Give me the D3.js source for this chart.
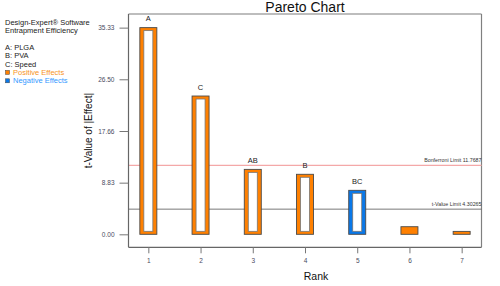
<!DOCTYPE html>
<html lang="en">
<head>
<meta charset="UTF-8"/>
<title>Pareto Chart</title>
<script src="https://d3js.org/d3.v7.min.js"></script>
<style>
    body { margin: 0; background: #fff; }
    text { font-family: "Liberation Sans", Arial, sans-serif; }
</style>
</head>
<body>
<div id="chart"></div>
<script>
    // data
    var ranks = [1, 2, 3, 4, 5, 6, 7];
    var terms = ["A", "C", "AB", "B", "BC", "", ""];
    var tValues = [35.33, 23.64, 11.1, 10.26, 7.52, 1.3, 0.5];
    var signs = ["+", "+", "+", "+", "-", "+", "+"];
    var yTicks = [0, 8.83, 17.66, 26.50, 35.33];
    var bonferroni = 11.7687;
    var tLimit = 4.30265;
    var legendLines = [
        ["Design-Expert\u00ae Software", "#222"],
        ["Entrapment Efficiency", "#222"],
        ["", ""],
        ["A: PLGA", "#222"],
        ["B: PVA", "#222"],
        ["C: Speed", "#222"]
    ];

    var w = 500, h = 286;
    var plotL = 128.5, plotR = 481.5, plotT = 14, plotB = 247.3;
    var orange = "#ff8000", blue = "#0a78e8";

    var xScale = d3.scaleLinear()
                    .domain([0.62, 7.38])
                    .range([plotL, plotR]);

    var yScale = d3.scaleLinear()
                    .domain([-2.22, 37.66])
                    .range([plotB, plotT]);

    var svg = d3.select("#chart")
                .append("svg")
                .attr("width", w)
                .attr("height", h);

    // frame
    svg.append("line").attr("x1", plotL).attr("x2", plotR).attr("y1", plotT).attr("y2", plotT)
       .attr("stroke", "#bdbdbd").attr("stroke-width", 2);
    svg.append("line").attr("x1", plotR).attr("x2", plotR).attr("y1", plotT).attr("y2", plotB)
       .attr("stroke", "#808080").attr("stroke-width", 1.2);

    // limit lines (behind bars)
    svg.append("line")
       .attr("x1", plotL).attr("x2", plotR)
       .attr("y1", yScale(bonferroni)).attr("y2", yScale(bonferroni))
       .attr("stroke", "#f4a8a8").attr("stroke-width", 1.3);
    svg.append("line")
       .attr("x1", plotL).attr("x2", plotR)
       .attr("y1", yScale(tLimit)).attr("y2", yScale(tLimit))
       .attr("stroke", "#555").attr("stroke-width", 0.8);

    svg.append("text")
       .attr("x", plotR).attr("y", yScale(bonferroni) - 3)
       .attr("text-anchor", "end")
       .attr("font-size", "5.3px").attr("fill", "#333")
       .text("Bonferroni Limit " + bonferroni);
    svg.append("text")
       .attr("x", plotR).attr("y", yScale(tLimit) - 3)
       .attr("text-anchor", "end")
       .attr("font-size", "5.3px").attr("fill", "#333")
       .text("t-Value Limit " + tLimit);

    // bars
    var barW = 17;
    var bars = svg.selectAll("g.bar")
        .data(ranks)
        .enter()
        .append("g")
        .attr("class", "bar");

    bars.append("rect")
        .attr("x", function(d) { return xScale(d) - barW / 2; })
        .attr("y", function(d, i) { return yScale(tValues[i]); })
        .attr("width", barW)
        .attr("height", function(d, i) { return yScale(0) - yScale(tValues[i]); })
        .attr("fill", function(d, i) { return signs[i] === "+" ? orange : blue; })
        .attr("stroke", "#4a4a4a")
        .attr("stroke-width", 0.9);

    bars.filter(function(d, i) { return yScale(0) - yScale(tValues[i]) > 12; })
        .append("rect")
        .attr("x", function(d) { return xScale(d) - barW / 2 + 4; })
        .attr("y", function(d, i) { return yScale(tValues[i]) + 3; })
        .attr("width", barW - 8)
        .attr("height", function(d, i) { return yScale(0) - yScale(tValues[i]) - 6; })
        .attr("fill", "#fff")
        .attr("stroke", "#777")
        .attr("stroke-width", 0.8);

    bars.append("text")
        .attr("x", function(d) { return xScale(d); })
        .attr("y", function(d, i) { return yScale(tValues[i]) - 6.5; })
        .attr("text-anchor", "middle")
        .attr("font-size", "7.5px")
        .attr("fill", "#222")
        .text(function(d, i) { return terms[i]; });

    // axes
    var yAxis = d3.axisLeft(yScale)
                  .tickValues(yTicks)
                  .tickFormat(d3.format(".2f"))
                  .tickSize(9)
                  .tickPadding(5);
    var gy = svg.append("g")
       .attr("transform", "translate(" + plotL + ",0)")
       .call(yAxis);

    var xAxis = d3.axisBottom(xScale)
                  .tickValues(ranks)
                  .tickFormat(d3.format("d"))
                  .tickSize(6)
                  .tickPadding(5);
    var gx = svg.append("g")
       .attr("transform", "translate(0," + plotB + ")")
       .call(xAxis);

    [gx, gy].forEach(function(g) {
        g.select(".domain").attr("stroke", "#666").attr("stroke-width", 1.2);
        g.selectAll(".tick line").attr("stroke", "#777").attr("stroke-width", 1);
        g.selectAll(".tick text").attr("fill", "#4a4a60").attr("font-size", "6.5px")
         .attr("font-family", "Liberation Sans, Arial, sans-serif");
    });
    gy.select(".domain").attr("d", "M0," + plotT + "V" + plotB);
    gx.select(".domain").attr("d", "M" + plotL + ",0H" + plotR);

    // title and axis labels
    svg.append("text")
       .attr("x", (plotL + plotR) / 2).attr("y", 12)
       .attr("text-anchor", "middle")
       .attr("font-size", "14px").attr("fill", "#111")
       .text("Pareto Chart");

    svg.append("text")
       .attr("transform", "rotate(-90)")
       .attr("x", -(plotT + plotB) / 2).attr("y", 92)
       .attr("text-anchor", "middle")
       .attr("font-size", "10px").attr("fill", "#111")
       .text("t-Value of |Effect|");

    svg.append("text")
       .attr("x", (plotL + plotR) / 2 + 11).attr("y", 280)
       .attr("text-anchor", "middle")
       .attr("font-size", "10.5px").attr("fill", "#111")
       .text("Rank");

    // legend
    var legend = svg.append("g");
    legend.selectAll("text")
        .data(legendLines)
        .enter()
        .append("text")
        .attr("x", 5)
        .attr("y", function(d, i) { return 24.5 + i * 8.4; })
        .attr("font-size", "7.5px")
        .attr("fill", function(d) { return d[1]; })
        .text(function(d) { return d[0]; });

    var effects = [["Positive Effects", orange, "#f7941d"], ["Negative Effects", blue, "#3399ff"]];
    effects.forEach(function(e, i) {
        var yy = 24.5 + (6 + i) * 8.4;
        legend.append("rect")
            .attr("x", 5.5).attr("y", yy - 4.5)
            .attr("width", 4).attr("height", 4)
            .attr("fill", e[1]).attr("stroke", "#444").attr("stroke-width", 0.5);
        legend.append("text")
            .attr("x", 13).attr("y", yy)
            .attr("font-size", "7.5px")
            .attr("fill", e[2])
            .text(e[0]);
    });
</script>
</body>
</html>
